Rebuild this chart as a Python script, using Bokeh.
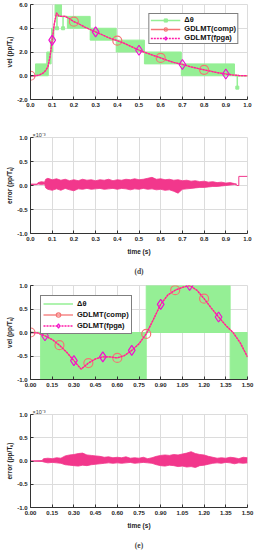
from bokeh.plotting import figure
from bokeh.layouts import column
from bokeh.models import Legend, LegendItem, Title, FixedTicker
from bokeh.embed import file_html
from bokeh.resources import INLINE

# ---------------- data: panel (d) ----------------
d_xticks = [0.0, 0.1, 0.2, 0.3, 0.4, 0.5, 0.6, 0.7, 0.8, 0.9, 1.0]
d_xlabels = ["0.0", "0.1", "0.2", "0.3", "0.4", "0.5", "0.6", "0.7", "0.8", "0.9", "1.0"]
d_vel_yticks = [-2.0, 0.0, 2.0, 4.0, 6.0]
d_vel_ylabels = ["-2.0", "0.0", "2.0", "4.0", "6.0"]
err_yticks = [-1.0, -0.5, 0.0, 0.5, 1.0]
err_ylabels = ["-1.0", "-0.5", "0.0", "0.5", "1.0"]

# delta-theta dither bands (start, end, low, high)
d_band_t0 = [0.023, 0.075, 0.092, 0.097, 0.113, 0.170, 0.275, 0.395, 0.525, 0.695]
d_band_t1 = [0.082, 0.095, 0.103, 0.108, 0.143, 0.275, 0.395, 0.525, 0.695, 0.940]
d_band_lo = [0, 1, 2, 3, 5, 4, 3, 2, 1, 0]
d_band_hi = [1, 2, 3, 4, 6, 5, 4, 3, 2, 1]
# delta-theta plain segments / spikes
d_seg_t0 = [0.0, 0.143, 0.940, 0.122, 0.150, 0.953]
d_seg_t1 = [0.023, 0.170, 1.000, 0.122, 0.150, 0.953]
d_seg_v0 = [0, 5, 0, 5, 5, 0]
d_seg_v1 = [0, 5, 0, 4, 4, -1]
d_cap_t = [0.122, 0.150, 0.953]
d_cap_v = [4, 4, -1]

d_comp_t = [0.00, 0.02, 0.04, 0.06, 0.07, 0.08, 0.09, 0.10, 0.11, 0.12, 0.13, 0.14, 0.16,
            0.18, 0.20, 0.22, 0.25, 0.28, 0.30, 0.33, 0.36, 0.40, 0.43, 0.46, 0.50, 0.53,
            0.56, 0.60, 0.63, 0.66, 0.70, 0.74, 0.77, 0.80, 0.83, 0.86, 0.90, 0.93, 0.96, 1.00]
d_comp_v = [0.00, 0.00, 0.05, 0.25, 0.45, 0.75, 1.60, 3.00, 4.40, 5.30, 5.05, 5.00, 5.00,
            4.80, 4.55, 4.40, 4.10, 3.85, 3.70, 3.45, 3.20, 2.95, 2.75, 2.50, 2.15, 1.95,
            1.75, 1.50, 1.30, 1.12, 0.95, 0.75, 0.62, 0.50, 0.38, 0.26, 0.15, 0.07, 0.02, 0.00]
d_circ_t = [0.0, 0.2, 0.4, 0.6, 0.8]
d_circ_v = [0.0, 4.55, 2.95, 1.50, 0.50]
d_diam_t = [0.1, 0.3, 0.5, 0.7, 0.9]
d_diam_v = [3.0, 3.70, 2.15, 0.95, 0.15]

d_err_t = [0.000, 0.030, 0.035, 0.050, 0.065, 0.070, 0.080, 0.100, 0.120, 0.140, 0.160,
           0.180, 0.200, 0.220, 0.240, 0.260, 0.280, 0.300, 0.320, 0.340, 0.360, 0.380,
           0.400, 0.420, 0.440, 0.460, 0.480, 0.500, 0.520, 0.540, 0.560, 0.580, 0.600,
           0.620, 0.640, 0.660, 0.680, 0.700, 0.720, 0.740, 0.760, 0.780, 0.800, 0.820,
           0.840, 0.860, 0.880, 0.900, 0.920, 0.940, 0.950]
d_err_hi = [0.03, 0.03, 0.06, 0.08, 0.07, 0.13, 0.15, 0.12, 0.14, 0.11, 0.13,
            0.10, 0.12, 0.10, 0.13, 0.11, 0.12, 0.10, 0.12, 0.11, 0.13, 0.10,
            0.12, 0.11, 0.13, 0.12, 0.14, 0.12, 0.13, 0.15, 0.17, 0.13, 0.14,
            0.12, 0.13, 0.11, 0.12, 0.10, 0.11, 0.09, 0.10, 0.08, 0.09, 0.07,
            0.08, 0.06, 0.07, 0.05, 0.06, 0.04, 0.03]
d_err_lo = [0.01, 0.02, 0.03, 0.02, 0.03, -0.05, -0.08, -0.10, -0.07, -0.10, -0.06,
            -0.09, -0.11, -0.07, -0.08, -0.06, -0.08, -0.07, -0.06, -0.08, -0.07, -0.06,
            -0.08, -0.06, -0.07, -0.09, -0.07, -0.08, -0.06, -0.08, -0.07, -0.09, -0.08,
            -0.10, -0.09, -0.12, -0.16, -0.08, -0.07, -0.06, -0.05, -0.04, -0.04, -0.03,
            -0.02, -0.02, -0.01, 0.00, 0.01, 0.02, 0.01]
d_err_step_t = [0.950, 0.960, 0.960, 1.000]
d_err_step_v = [0.00, 0.00, 0.19, 0.19]

# ---------------- data: panel (e) ----------------
e_xticks = [0.0, 0.15, 0.3, 0.45, 0.6, 0.75, 0.9, 1.05, 1.2, 1.35, 1.5]
e_xlabels = ["0.00", "0.15", "0.30", "0.45", "0.60", "0.75", "0.90", "1.05", "1.20", "1.35", "1.50"]
e_vel_yticks = [-1.0, -0.5, 0.0, 0.5, 1.0]
e_vel_ylabels = ["-1.0", "-0.5", "0.0", "0.5", "1.0"]

e_band_t0 = [0.07, 0.80, 1.38]
e_band_t1 = [0.80, 1.38, 1.50]
e_band_lo = [-1, 0, -1]
e_band_hi = [0, 1, 0]
e_seg_t0 = [0.0]
e_seg_t1 = [0.07]
e_seg_v0 = [0]
e_seg_v1 = [0]

e_comp_t = [0.00, 0.05, 0.10, 0.15, 0.20, 0.25, 0.30, 0.35, 0.40, 0.45, 0.50, 0.55, 0.60,
            0.65, 0.70, 0.75, 0.80, 0.85, 0.90, 0.95, 1.00, 1.05, 1.10, 1.15, 1.20, 1.25,
            1.30, 1.35, 1.40, 1.45, 1.50]
e_comp_v = [0.00, -0.01, -0.07, -0.15, -0.27, -0.42, -0.60, -0.78, -0.65, -0.56, -0.52,
            -0.52, -0.54, -0.49, -0.38, -0.24, -0.03, 0.28, 0.60, 0.80, 0.90, 0.96, 1.00,
            0.90, 0.72, 0.52, 0.33, 0.15, 0.00, -0.22, -0.52]
e_circ_t = [0.0, 0.2, 0.4, 0.6, 0.8, 1.0, 1.2]
e_circ_v = [0.0, -0.27, -0.65, -0.54, -0.03, 0.90, 0.72]
e_diam_t = [0.1, 0.3, 0.5, 0.7, 0.9, 1.1, 1.3]
e_diam_v = [-0.07, -0.60, -0.52, -0.38, 0.60, 1.00, 0.33]

e_err_t = [0.00, 0.08, 0.09, 0.12, 0.15, 0.18, 0.21, 0.24, 0.27, 0.30, 0.33, 0.36, 0.39,
           0.42, 0.45, 0.48, 0.51, 0.54, 0.57, 0.60, 0.63, 0.66, 0.69, 0.72, 0.75, 0.78,
           0.81, 0.84, 0.87, 0.90, 0.93, 0.96, 0.99, 1.02, 1.05, 1.08, 1.11, 1.14, 1.17,
           1.20, 1.23, 1.26, 1.29, 1.32, 1.35, 1.38, 1.41, 1.44, 1.47, 1.50]
e_err_hi = [0.00, 0.01, 0.05, 0.06, 0.05, 0.07, 0.06, 0.11, 0.13, 0.14, 0.16, 0.17, 0.13,
            0.12, 0.11, 0.10, 0.08, 0.09, 0.07, 0.08, 0.07, 0.09, 0.06, 0.07, 0.06, 0.08,
            0.05, 0.07, 0.10, 0.12, 0.13, 0.12, 0.14, 0.13, 0.15, 0.17, 0.20, 0.16, 0.14,
            0.13, 0.10, 0.08, 0.06, 0.07, 0.06, 0.08, 0.07, 0.05, 0.08, 0.07]
e_err_lo = [0.00, -0.01, -0.02, -0.04, -0.03, -0.04, -0.05, -0.08, -0.09, -0.10, -0.11,
            -0.09, -0.10, -0.08, -0.07, -0.06, -0.05, -0.04, -0.05, -0.04, -0.05, -0.04,
            -0.03, -0.05, -0.04, -0.03, -0.04, -0.05, -0.08, -0.10, -0.11, -0.09, -0.10,
            -0.12, -0.11, -0.13, -0.12, -0.14, -0.10, -0.09, -0.07, -0.05, -0.04, -0.05,
            -0.03, -0.04, -0.06, -0.04, -0.05, -0.04]

# ---------------- styling ----------------
FW = 217
FONT = "Liberation Sans"
GREEN = "#95ef95"
SALMON = "#f47474"
MAGENTA = "#ff1aa6"
DIAM = "#f010d0"
NOISE = "#f2378c"
GRID = "#dcdcdc"
AX = "#333333"


def make_fig(fh, xr, yr, top, bottom, xticks, xlabels, yticks, ylabels, ylabel, xlabel=None):
    p = figure(frame_width=FW, frame_height=fh, x_range=xr, y_range=yr, output_backend="svg",
               toolbar_location=None, min_border_left=30, min_border_right=7,
               min_border_top=top, min_border_bottom=bottom)
    p.outline_line_color = GRID
    p.xaxis.ticker = FixedTicker(ticks=xticks)
    p.yaxis.ticker = FixedTicker(ticks=yticks)
    p.xaxis.major_label_overrides = dict(zip(xticks, xlabels))
    p.yaxis.major_label_overrides = dict(zip(yticks, ylabels))
    for ax in (p.xaxis, p.yaxis):
        ax.axis_line_color = AX
        ax.axis_line_width = 1
        ax.major_tick_in = 3
        ax.major_tick_out = 0
        ax.major_tick_line_color = AX
        ax.minor_tick_line_color = None
        ax.major_label_text_font = FONT
        ax.major_label_text_font_style = "bold"
        ax.major_label_text_font_size = "6px"
        ax.major_label_text_color = "#222222"
        ax.major_label_standoff = 3
        ax.axis_label_text_font = FONT
        ax.axis_label_text_font_style = "bold"
        ax.axis_label_text_font_size = "6.5px"
        ax.axis_label_text_color = "#222222"
        ax.axis_label_standoff = 4
    p.yaxis.axis_label_standoff = 1
    p.yaxis.axis_label = ylabel
    if xlabel:
        p.xaxis.axis_label = xlabel
    p.xgrid.grid_line_color = GRID
    p.ygrid.grid_line_color = GRID
    return p


def vel_panel(p, bt0, bt1, blo, bhi, st0, st1, sv0, sv1, ct, cv, circ_t, circ_v,
              diam_t, diam_v, cap_t=None, cap_v=None):
    p.quad(left=bt0, right=bt1, bottom=blo, top=bhi, fill_color=GREEN, line_color=GREEN,
           line_width=1)
    g_seg = p.segment(x0=st0, y0=sv0, x1=st1, y1=sv1, line_color=GREEN, line_width=1.5)
    ct_ = cap_t if cap_t is not None else []
    cv_ = cap_v if cap_v is not None else []
    g_cap = p.scatter(ct_, cv_, marker="square", size=3, fill_color=GREEN, line_color=GREEN)
    c_line = p.line(ct, cv, line_color=SALMON, line_width=1.3)
    c_mark = p.scatter(circ_t, circ_v, marker="circle", size=9, fill_alpha=0,
                       line_color=SALMON, line_width=1.2)
    f_line = p.line(ct, cv, line_color=MAGENTA, line_width=1.3, line_dash="2 1")
    f_mark = p.scatter(diam_t, diam_v, marker="diamond", size=10, fill_alpha=0,
                       line_color=DIAM, line_width=1.2)
    return [LegendItem(label="Δθ", renderers=[g_seg, g_cap]),
            LegendItem(label="GDLMT(comp)", renderers=[c_line, c_mark]),
            LegendItem(label="GDLMT(fpga)", renderers=[f_line, f_mark])]


def style_legend(lg, fs, gh, pad, loc, margin, gw):
    lg.location = loc
    lg.margin = margin
    lg.padding = pad
    lg.spacing = 0
    lg.label_text_font = FONT
    lg.label_text_font_style = "bold"
    lg.label_text_font_size = fs
    lg.label_text_color = "#111111"
    lg.glyph_height = gh
    lg.label_height = gh
    lg.glyph_width = gw
    lg.label_standoff = 4
    lg.border_line_color = "black"
    lg.border_line_width = 1
    lg.background_fill_alpha = 1


# ---- panel 1: vel (d)
p1 = make_fig(95, (0, 1), (-2, 6), 4, 29, d_xticks, d_xlabels, d_vel_yticks, d_vel_ylabels,
              "vel (pp/Tₛ)")
items1 = vel_panel(p1, d_band_t0, d_band_t1, d_band_lo, d_band_hi, d_seg_t0, d_seg_t1,
                   d_seg_v0, d_seg_v1, d_comp_t, d_comp_v, d_circ_t, d_circ_v, d_diam_t,
                   d_diam_v, d_cap_t, d_cap_v)
lg1 = Legend(items=items1)
style_legend(lg1, "7.5px", 8, 1, "top_right", 9, 30)
p1.add_layout(lg1, "center")

# ---- panel 2: error (d)
p2 = make_fig(96, (0, 1), (-1, 1), 9, 47, d_xticks, d_xlabels, err_yticks, err_ylabels,
              "error (pp/Tₛ)", "time (s)")
p2.varea(x=d_err_t, y1=d_err_lo, y2=d_err_hi, fill_color=NOISE)
p2.line(d_err_t, d_err_hi, line_color=NOISE, line_width=0.8)
p2.line(d_err_t, d_err_lo, line_color=NOISE, line_width=0.8)
p2.line(d_err_step_t, d_err_step_v, line_color=NOISE, line_width=1)

# ---- panel 3: vel (e)
p3 = make_fig(94, (0, 1.5), (-1, 1), 3, 25, e_xticks, e_xlabels, e_vel_yticks, e_vel_ylabels,
              "vel (pp/Tₛ)")
items3 = vel_panel(p3, e_band_t0, e_band_t1, e_band_lo, e_band_hi, e_seg_t0, e_seg_t1,
                   e_seg_v0, e_seg_v1, e_comp_t, e_comp_v, e_circ_t, e_circ_v, e_diam_t,
                   e_diam_v)
lg3 = Legend(items=items3)
style_legend(lg3, "7.5px", 11, 2, "top_left", 10, 30)
p3.add_layout(lg3, "center")

# ---- panel 4: error (e)
p4 = make_fig(93, (0, 1.5), (-1, 1), 10, 45, e_xticks, e_xlabels, err_yticks, err_ylabels,
              "error (pp/Tₛ)", "time (s)")
p4.varea(x=e_err_t, y1=e_err_lo, y2=e_err_hi, fill_color=NOISE)
p4.line(e_err_t, e_err_hi, line_color=NOISE, line_width=0.8)
p4.line(e_err_t, e_err_lo, line_color=NOISE, line_width=0.8)

for p in (p2, p4):
    p.title.text = "×10⁻³"
    p.title.align = "left"
    p.title.text_font = FONT
    p.title.text_font_size = "5.5px"
    p.title.text_font_style = "normal"
    p.title.text_color = "#333333"
    p.title.standoff = 0
    p.title.offset = 2

for p, cap in ((p2, "(d)"), (p4, "(e)")):
    p.add_layout(Title(text=cap, align="center", text_font="Liberation Serif",
                       text_font_size="7.5px", text_font_style="bold", standoff=14), "below")

layout = column(p1, p2, p3, p4, spacing=0)
open("out.html", "w").write(file_html(layout, INLINE))
